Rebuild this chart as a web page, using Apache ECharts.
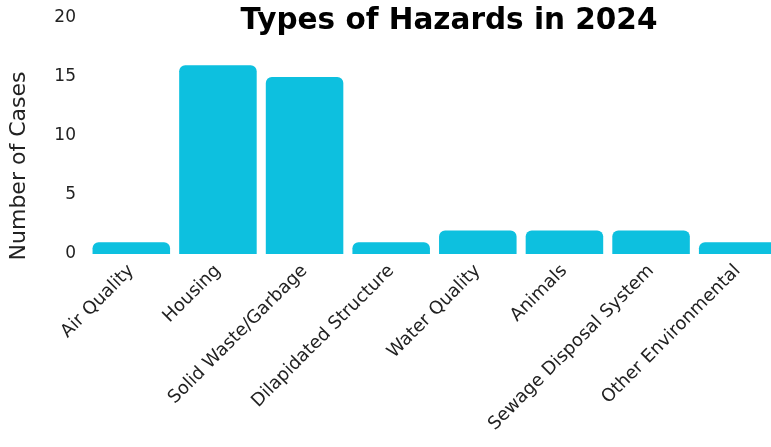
<!DOCTYPE html>
<html><head><meta charset="utf-8">
<script src="https://cdn.jsdelivr.net/npm/echarts@6/dist/echarts.min.js"></script>
<style>html,body{margin:0;padding:0;background:#fff}#c{width:771px;height:447px}</style>
</head><body><div id="c"></div>
<script>
const categories = ["Air Quality","Housing","Solid Waste/Garbage","Dilapidated Structure","Water Quality","Animals","Sewage Disposal System","Other Environmental"];
const values = [1,16,15,1,2,2,2,1];
const yTicks = [0,5,10,15,20];
const FONT = "DejaVu Sans";
const chart = echarts.init(document.getElementById('c'));
chart.setOption({
  animation:false,
  title:{text:"Types of Hazards in 2024",left:444,textAlign:'center',top:1,
    textStyle:{fontFamily:FONT,fontSize:29.5,fontWeight:'bold',color:'#000'}},
  grid:{left:88,width:693,top:18,bottom:193,containLabel:false,outerBoundsMode:'none'},
  xAxis:{type:'category',data:categories,
    axisLine:{show:false},axisTick:{show:false},
    axisLabel:{rotate:45,interval:0,margin:14,fontFamily:FONT,fontSize:18,color:'#222'}},
  yAxis:{type:'value',min:yTicks[0],max:yTicks[yTicks.length-1],interval:5,
    splitLine:{show:false},axisLine:{show:false},axisTick:{show:false},
    name:"Number of Cases",nameLocation:'middle',nameGap:58,nameRotate:90,
    nameTextStyle:{fontFamily:FONT,fontSize:22,color:'#222',padding:[0,60,0,0]},
    axisLabel:{margin:12,fontFamily:FONT,fontSize:17,color:'#222'}},
  series:[{type:'bar',data:values,barCategoryGap:'10.5%',
    itemStyle:{color:'#0DC0DF',borderRadius:[6,6,0,0]}}]
});
</script></body></html>
